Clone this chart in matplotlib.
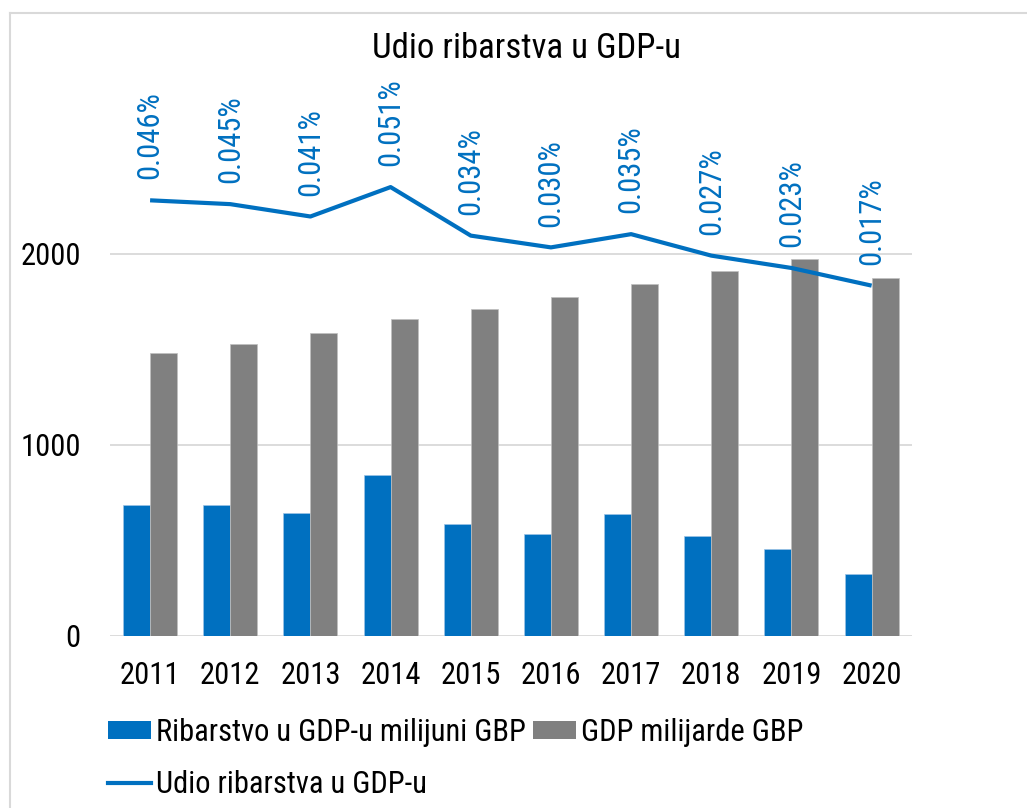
import matplotlib.pyplot as plt
from matplotlib import font_manager
from matplotlib.lines import Line2D
from matplotlib.patches import Patch

years = ['2011', '2012', '2013', '2014', '2015', '2016', '2017', '2018', '2019', '2020']
fishing_mil = [683, 684, 642, 840, 583, 534, 637, 522, 455, 321]
gdp_bil = [1480, 1527, 1586, 1660, 1710, 1775, 1843, 1909, 1971, 1874]
share_pct = [0.0461, 0.0448, 0.0406, 0.0506, 0.0341, 0.0301, 0.0346, 0.0273, 0.0231, 0.0171]

# the reference uses a narrow Arial-like face; take one if there is one
fonts = font_manager.fontManager.ttflist
names = {f.name for f in fonts}
family, stretch, fs = 'Liberation Sans', 'normal', 19
for cand in ['Liberation Sans Narrow', 'Arial Narrow', 'Roboto Condensed',
             'Open Sans Condensed', 'Noto Sans Condensed']:
    if cand in names:
        family, fs = cand, 22
        break
else:
    for base in ['Roboto', 'Noto Sans', 'Open Sans', 'Liberation Sans']:
        if any(f.name == base and 'condensed' in str(f.stretch) for f in fonts):
            family, stretch, fs = base, 'condensed', 22
            break
plt.rcParams['font.family'] = [family, 'DejaVu Sans']
plt.rcParams['font.stretch'] = stretch

blue = '#0070C0'
grey = '#808080'

W, H = 1027, 808
fig = plt.figure(figsize=(W / 100, H / 100), dpi=100)

left, right, bottom, top = 110, 911.7, 635.7, 100
ax = fig.add_axes([left / W, 1 - bottom / H, (right - left) / W, (bottom - top) / H])

x = list(range(len(years)))
bw = 0.337
ax.bar([i - bw / 2 for i in x], fishing_mil, bw, color=blue, edgecolor='#9dc3e6', linewidth=0.5, zorder=3)
ax.bar([i + bw / 2 for i in x], gdp_bil, bw, color=grey, edgecolor='#bfbfbf', linewidth=0.5, zorder=3)

ax.set_xlim(-0.5, len(years) - 0.5)
ax.set_ylim(0, (bottom - top) / 0.191)
ax.set_yticks([0, 1000, 2000])
ax.set_xticks(x)
ax.set_xticklabels(years)
ax.grid(axis='y', color='#d9d9d9', linewidth=1.3, zorder=0)
ax.tick_params(length=0, labelsize=fs, colors='black')
ax.tick_params(axis='y', pad=21)
ax.tick_params(axis='x', pad=18)
for s in ax.spines.values():
    s.set_visible(False)

# hidden secondary axis for the share line
ax2 = ax.twinx()
ax2.set_ylim(-0.1019, 0.0802)
ax2.axis('off')
ax2.plot(x, share_pct, color=blue, linewidth=3, solid_capstyle='butt', zorder=4)
for i, v in zip(x, share_pct):
    ax2.annotate(f'{v:.3f}%', (i, v), xytext=(0, 15), textcoords='offset points',
                 rotation=90, ha='center', va='bottom', color=blue, fontsize=fs,
                 annotation_clip=False)

fig.text(526 / W, 1 - 48 / H, 'Udio ribarstva u GDP-u', ha='center', va='center', fontsize=fs + 3)

handles = [Patch(facecolor=blue, label='Ribarstvo u GDP-u milijuni GBP'),
           Line2D([], [], color=blue, linewidth=3, label='Udio ribarstva u GDP-u'),
           Patch(facecolor=grey, label='GDP milijarde GBP')]
fig.legend(handles=handles, ncol=2, loc='upper left', bbox_to_anchor=(108 / W, 1 - 718 / H),
           frameon=False, fontsize=fs, handlelength=1.4 * 22 / fs, handleheight=0.52,
           handletextpad=0.16, columnspacing=0.26, labelspacing=0.75, borderpad=0,
           borderaxespad=0)

# chart area border (top and left visible)
fig.add_artist(Line2D([9.5 / W, 9.5 / W], [0, 1 - 12.5 / H], color='#d9d9d9', linewidth=1.5))
fig.add_artist(Line2D([9.5 / W, 1], [1 - 12.5 / H, 1 - 12.5 / H], color='#d9d9d9', linewidth=1.5))

fig.savefig('out.png', dpi=100)
